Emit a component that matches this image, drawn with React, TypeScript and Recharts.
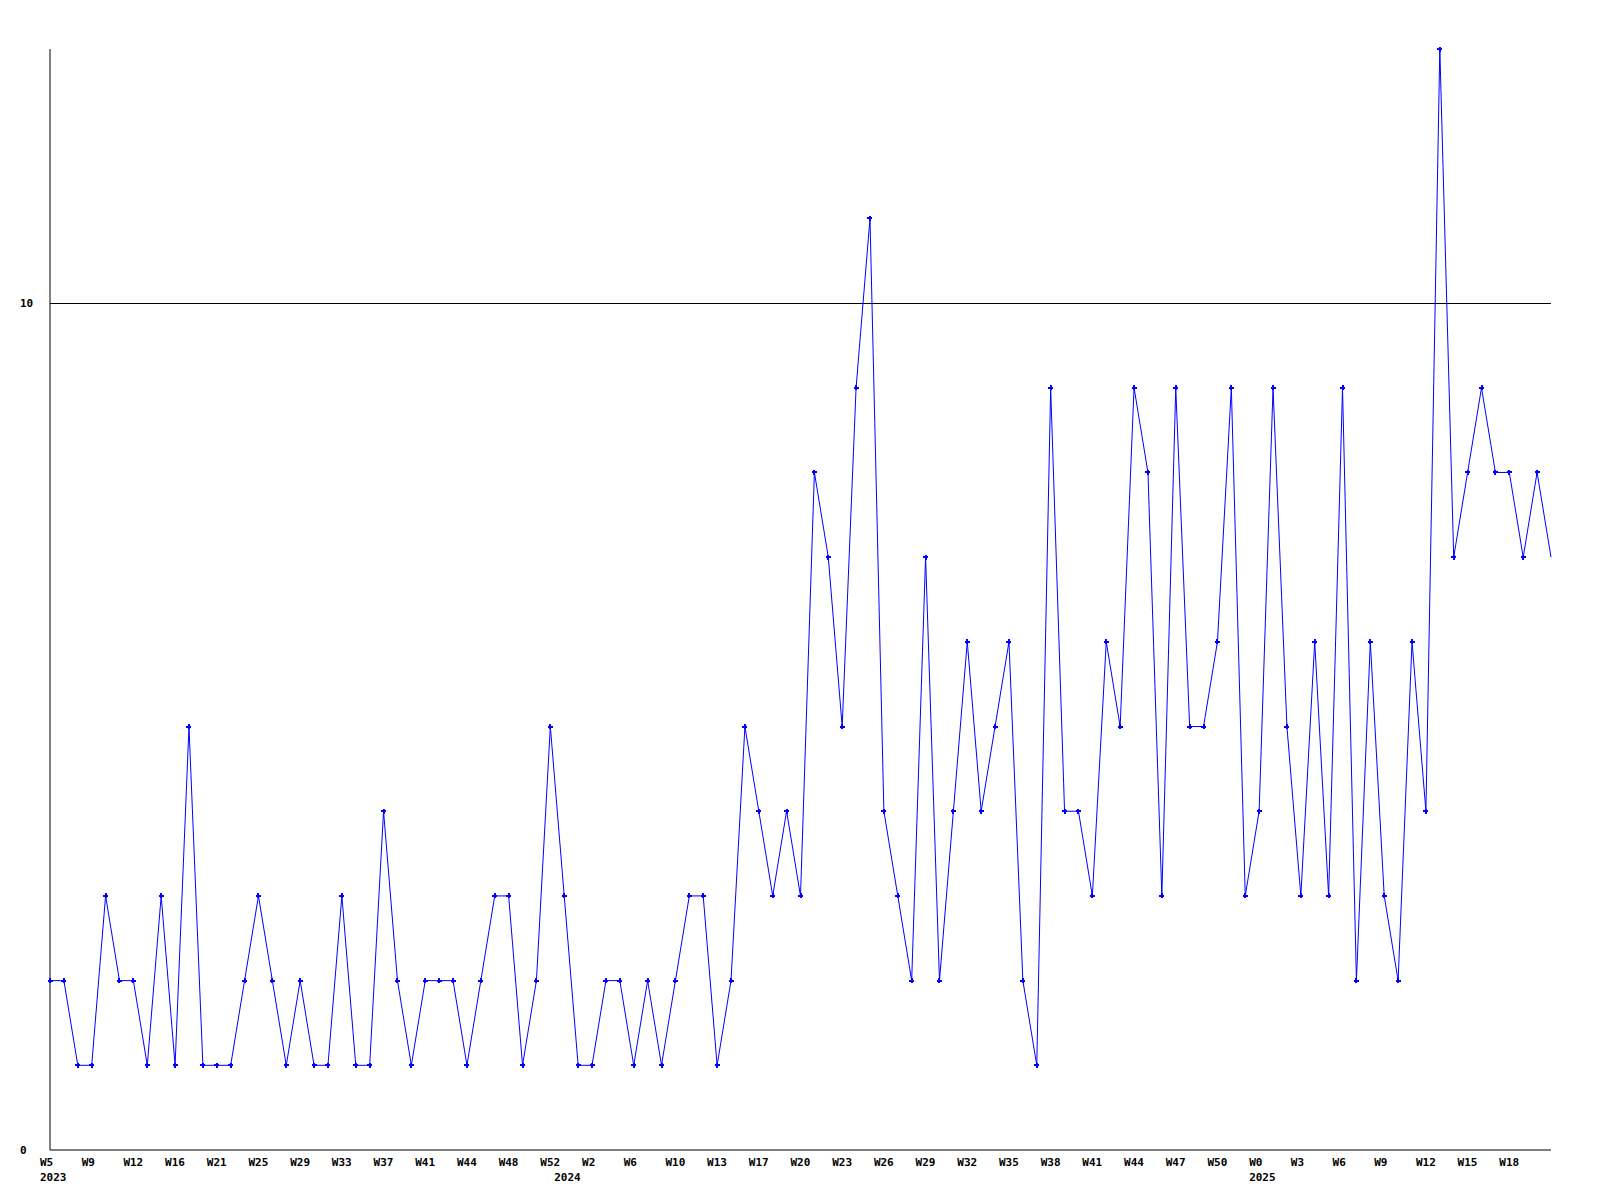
import React from "react";
import { LineChart, Line, XAxis, YAxis, ReferenceLine } from "recharts";

// Week tick labels, one every 3 samples
const weekTickLabels = [
  "W5", "W9", "W12", "W16", "W21", "W25", "W29", "W33", "W37", "W41", "W44", "W48",
  "W52", "W2", "W6", "W10", "W13", "W17", "W20", "W23", "W26", "W29", "W32", "W35",
  "W38", "W41", "W44", "W47", "W50", "W0", "W3", "W6", "W9", "W12", "W15", "W18",
];
const weekTickStep = 3;

// Year labels and the sample index where each year starts
const yearLabels = ["2023", "2024", "2025"];
const yearStartIndex = [0, 37, 87];

// Series values (one per sample)
const values = [
  2, 2, 1, 1, 3, 2, 2, 1, 3, 1,
  5, 1, 1, 1, 2, 3, 2, 1, 2, 1,
  1, 3, 1, 1, 4, 2, 1, 2, 2, 2,
  1, 2, 3, 3, 1, 2, 5, 3, 1, 1,
  2, 2, 1, 2, 1, 2, 3, 3, 1, 2,
  5, 4, 3, 4, 3, 8, 7, 5, 9, 11,
  4, 3, 2, 7, 2, 4, 6, 4, 5, 6,
  2, 1, 9, 4, 4, 3, 6, 5, 9, 8,
  3, 9, 5, 5, 6, 9, 3, 4, 9, 5,
  3, 6, 3, 9, 2, 6, 3, 2, 6, 4,
  13, 7, 8, 9, 8, 8, 7, 8, 7,
];

const yTicks = [0, 10];
const yGridValue = 10;
const yMax = 13;

const data = values.map((v, idx) => ({ idx, value: v }));

const weekMap = new Map<number, string>();
weekTickLabels.forEach((l, k) => weekMap.set(k * weekTickStep, l));
const yearMap = new Map<number, string>();
yearLabels.forEach((l, k) => yearMap.set(yearStartIndex[k], l));
const xTicks = Array.from(new Set([...weekMap.keys(), ...yearMap.keys()])).sort((a, b) => a - b);

const FONT = "'DejaVu Sans Mono', monospace";

const XTick = (props: any) => {
  const { x, y, payload } = props;
  const w = weekMap.get(payload.value);
  const yr = yearMap.get(payload.value);
  return (
    <g>
      {w && (
        <text x={x - 10} y={y + 16} textAnchor="start" fontFamily={FONT} fontWeight="bold" fontSize={11} fill="#000">
          {w}
        </text>
      )}
      {yr && (
        <text x={x - 10} y={y + 31} textAnchor="start" fontFamily={FONT} fontWeight="bold" fontSize={11} fill="#000">
          {yr}
        </text>
      )}
    </g>
  );
};

const YTick = (props: any) => {
  const { x, y, payload } = props;
  return (
    <text x={x - 30} y={y + 4} textAnchor="start" fontFamily={FONT} fontWeight="bold" fontSize={11} fill="#000">
      {payload.value}
    </text>
  );
};

const PlusDot = (props: any) => {
  const { cx, cy, index } = props;
  if (index === values.length - 1 || cx == null || cy == null) return <g key={`d${index}`} />;
  return (
    <g key={`d${index}`} shapeRendering="crispEdges">
      <rect x={cx - 2.5} y={cy - 1} width={5} height={2} fill="#0000ff" />
      <rect x={cx - 1} y={cy - 2.5} width={2} height={5} fill="#0000ff" />
    </g>
  );
};

export default function App() {
  return (
    <div style={{ position: "absolute", left: 0, top: 0, background: "#fff" }}>
      <LineChart
        width={1600}
        height={1200}
        data={data}
        margin={{ top: 49, right: 49, left: 0, bottom: 0 }}
      >
        <XAxis
          dataKey="idx"
          type="number"
          domain={[0, values.length - 1]}
          ticks={xTicks}
          interval={0}
          height={50}
          tickSize={0}
          tickMargin={0}
          tickLine={false}
          axisLine={{ stroke: "#000", strokeWidth: 1 }}
          tick={<XTick />}
        />
        <YAxis
          type="number"
          domain={[0, yMax]}
          ticks={yTicks}
          interval={0}
          width={50}
          tickSize={0}
          tickMargin={0}
          tickLine={false}
          axisLine={{ stroke: "#000", strokeWidth: 1 }}
          tick={<YTick />}
        />
        <ReferenceLine y={yGridValue} stroke="#000" strokeWidth={1} shapeRendering="crispEdges" />
        <Line
          type="linear"
          dataKey="value"
          stroke="#0000ff"
          strokeWidth={1}
          dot={<PlusDot />}
          activeDot={false}
          isAnimationActive={false}
        />
      </LineChart>
    </div>
  );
}
